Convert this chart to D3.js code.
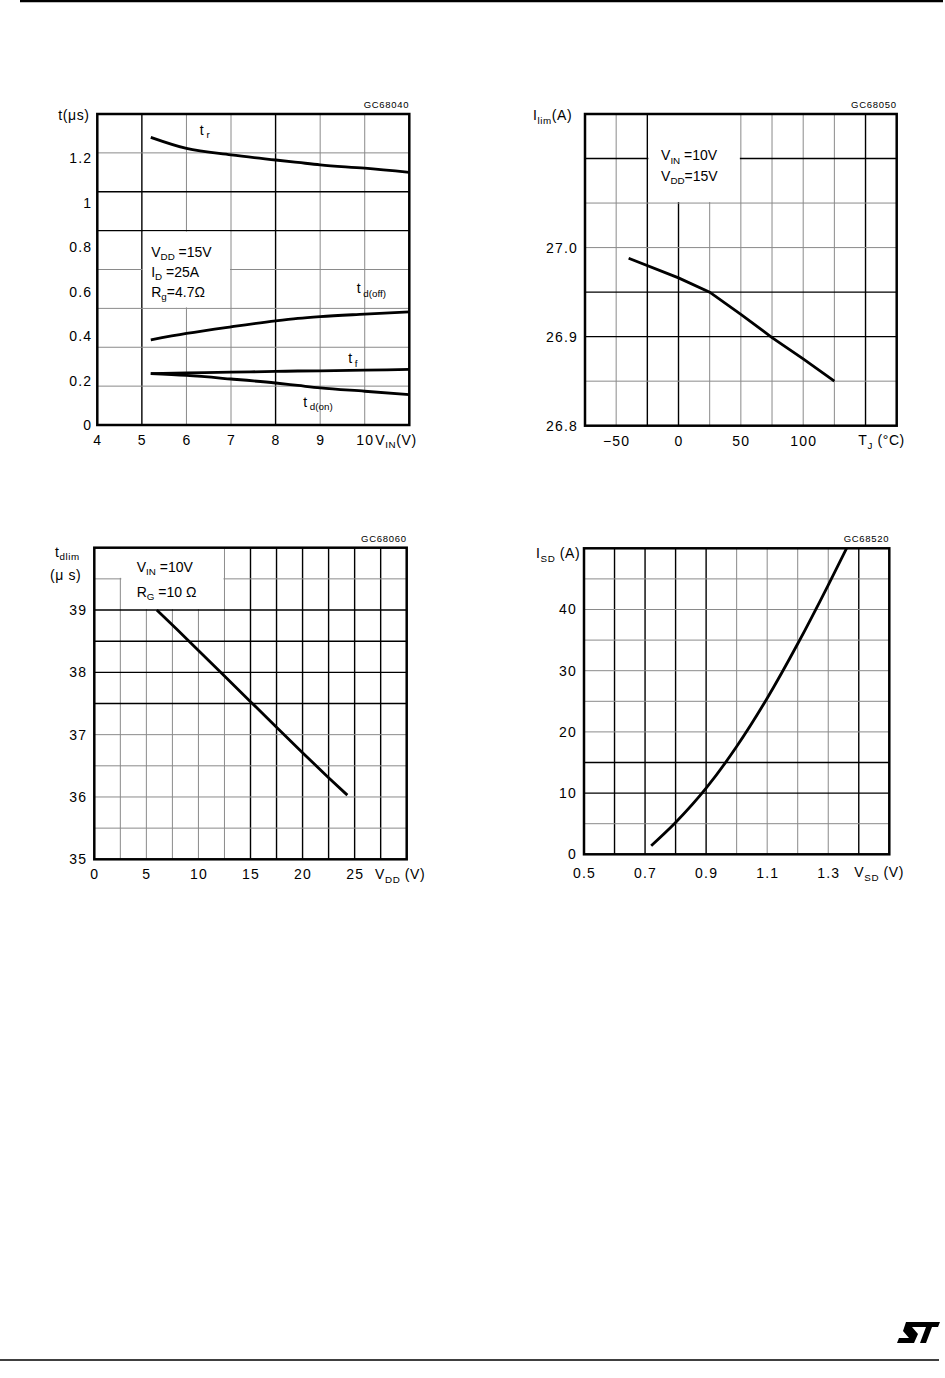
<!DOCTYPE html>
<html>
<head>
<meta charset="utf-8">
<script src="https://cdn.jsdelivr.net/npm/d3@7"></script>
<style>
  body { margin: 0; background: #fff; }
  svg { display: block; font-family: "Liberation Sans", Arial, sans-serif; }
</style>
</head>
<body>
<script>
// Chart 1 - switching times vs V_IN
const vinValues = [5.2, 6, 7, 8, 8.5, 9, 10, 11];
const trValues = [1.295, 1.245, 1.216, 1.193, 1.182, 1.171, 1.156, 1.137];
const tdoffValues = [0.383, 0.412, 0.442, 0.469, 0.480, 0.488, 0.499, 0.509];
const tfValues = [0.231, 0.234, 0.238, 0.241, 0.243, 0.244, 0.247, 0.250];
const tdonValues = [0.231, 0.223, 0.207, 0.189, 0.178, 0.167, 0.152, 0.137];
const vinTicks = [4, 5, 6, 7, 8, 9, 10];
const timeTicks = [0, 0.2, 0.4, 0.6, 0.8, 1, 1.2];

// Chart 2 - current limit vs junction temperature
const tjValues = [-40, 0, 25, 50, 75, 100, 125];
const ilimValues = [26.988, 26.966, 26.950, 26.925, 26.899, 26.875, 26.850];
const tjTicks = [-50, 0, 50, 100];
const ilimTicks = [26.8, 26.9, 27.0];

// Chart 3 - current limit delay vs V_DD
const vddValues = [6, 8, 10, 12.5, 15, 17.5, 20, 22.5, 24.3];
const tdlimValues = [39, 38.68, 38.35, 37.94, 37.53, 37.12, 36.71, 36.31, 36.03];
const vddTicks = [0, 5, 10, 15, 20, 25];
const tdlimTicks = [35, 36, 37, 38, 39];

// Chart 4 - source-drain diode forward characteristics
const vsdValues = [0.72, 0.8, 0.9, 1.0, 1.1, 1.2, 1.3, 1.36];
const isdValues = [1.4, 5.2, 10.8, 17.6, 25.5, 34.4, 44.0, 50];
const vsdTicks = [0.5, 0.7, 0.9, 1.1, 1.3];
const isdTicks = [0, 10, 20, 30, 40];

const width = 945, height = 1378;
const svg = d3.select("body").append("svg")
    .attr("width", width)
    .attr("height", height);

// text with subscripts: parts = [[text, isSub], ...]
function richText(g, x, y, parts, size, anchor) {
    const t = g.append("text")
        .attr("x", x).attr("y", y)
        .attr("font-size", size)
        .attr("text-anchor", anchor || "start")
        .attr("fill", "#000");
    let low = false;
    parts.forEach(p => {
        const sub = !!p[1];
        const span = t.append("tspan").text(p[0]);
        if (sub) span.attr("font-size", size * 0.7);
        if (sub && !low) span.attr("dy", size * 0.25);
        if (!sub && low) span.attr("dy", -size * 0.25);
        low = sub;
    });
    return t;
}

function drawChart(c) {
    const g = svg.append("g");
    const x = d3.scaleLinear().domain(c.xDomain).range([c.left, c.left + c.w]);
    const y = d3.scaleLinear().domain(c.yDomain).range([c.top + c.h, c.top]);

    // grid
    g.selectAll(".vgrid").data(c.xGrid).enter().append("line")
        .attr("x1", d => x(d)).attr("x2", d => x(d))
        .attr("y1", c.top).attr("y2", c.top + c.h)
        .attr("stroke", d => c.xDark.includes(d) ? "#000" : "#8a8a8a")
        .attr("stroke-width", d => c.xDark.includes(d) ? 1.4 : 1);
    g.selectAll(".hgrid").data(c.yGrid).enter().append("line")
        .attr("y1", d => y(d)).attr("y2", d => y(d))
        .attr("x1", c.left).attr("x2", c.left + c.w)
        .attr("stroke", d => c.yDark.includes(d) ? "#000" : "#8a8a8a")
        .attr("stroke-width", d => c.yDark.includes(d) ? 1.4 : 1);

    // white boxes behind the condition notes
    g.selectAll(".box").data(c.boxes).enter().append("rect")
        .attr("x", d => x(d.x0) + 1)
        .attr("y", d => y(d.y1) + 1)
        .attr("width", d => x(d.x1) - x(d.x0) - 2)
        .attr("height", d => y(d.y0) - y(d.y1) - 2)
        .attr("fill", "#fff");

    // curves
    const line = d3.line()
        .x(d => x(d[0]))
        .y(d => y(d[1]))
        .curve(c.curve);
    c.series.forEach(s => {
        g.append("path")
            .datum(d3.zip(s.x, s.y))
            .attr("d", line)
            .attr("fill", "none")
            .attr("stroke", "#000")
            .attr("stroke-width", 2.8);
    });

    // frame
    g.append("rect")
        .attr("x", c.left).attr("y", c.top)
        .attr("width", c.w).attr("height", c.h)
        .attr("fill", "none")
        .attr("stroke", "#000")
        .attr("stroke-width", 2.5);

    // axes
    const xAxis = d3.axisBottom(x).tickValues(c.xTicks).tickSize(0).tickPadding(c.xPad).tickFormat(c.xFormat);
    const yAxis = d3.axisLeft(y).tickValues(c.yTicks).tickSize(0).tickPadding(c.yPad).tickFormat(c.yFormat);
    g.append("g")
        .attr("transform", "translate(0," + (c.top + c.h) + ")")
        .call(xAxis)
        .call(a => a.select(".domain").remove())
        .attr("font-family", "Liberation Sans, Arial, sans-serif")
        .attr("font-size", 14)
        .attr("letter-spacing", 1.2);
    g.append("g")
        .attr("transform", "translate(" + c.left + ",0)")
        .call(yAxis)
        .call(a => a.select(".domain").remove())
        .attr("font-family", "Liberation Sans, Arial, sans-serif")
        .attr("font-size", 14)
        .attr("letter-spacing", 1.2);

    // notes in data coordinates
    c.notes.forEach(n => richText(g, x(n.x), y(n.y), n.parts, 14));

    // axis titles relative to the frame
    c.titles.forEach(t => richText(g, c.left + t.dx, c.top + t.dy, t.parts, 14)
        .attr("letter-spacing", 0.6));

    // figure code
    g.append("text")
        .attr("x", c.left + c.w)
        .attr("y", c.top - 6)
        .attr("text-anchor", "end")
        .attr("font-size", 9.5)
        .attr("letter-spacing", 0.7)
        .text(c.code);
}

const charts = [
    {
        code: "GC68040", left: 97.3, top: 114, w: 312, h: 311,
        xDomain: [4, 11], yDomain: [0, 1.4],
        xGrid: [5, 6, 7, 8, 9, 10], xDark: [5, 8],
        yGrid: [0.175, 0.35, 0.525, 0.7, 0.875, 1.05, 1.225], yDark: [0.875, 1.05],
        xTicks: vinTicks, yTicks: timeTicks,
        xFormat: d => String(d), yFormat: d => String(d),
        xPad: 10, yPad: 5,
        boxes: [{ x0: 5, x1: 7, y0: 0.525, y1: 0.875 }],
        curve: d3.curveMonotoneX,
        series: [
            { x: vinValues, y: trValues },
            { x: vinValues, y: tdoffValues },
            { x: vinValues, y: tfValues },
            { x: vinValues, y: tdonValues }
        ],
        notes: [
            { x: 6.30, y: 1.306, parts: [["t"], [" r", 1]] },
            { x: 9.82, y: 0.593, parts: [["t"], [" d(off)", 1]] },
            { x: 9.63, y: 0.278, parts: [["t"], [" f", 1]] },
            { x: 8.62, y: 0.082, parts: [["t"], [" d(on)", 1]] },
            { x: 5.21, y: 0.758, parts: [["V"], ["DD", 1], [" =15V"]] },
            { x: 5.21, y: 0.668, parts: [["I"], ["D", 1], [" =25A"]] },
            { x: 5.21, y: 0.578, parts: [["R"], ["g", 1], ["=4.7Ω"]] }
        ],
        titles: [
            { dx: -39, dy: 6, parts: [["t(μs)"]] },
            { dx: 278, dy: 330.5, parts: [["V"], ["IN", 1], ["(V)"]] }
        ]
    },
    {
        code: "GC68050", left: 585, top: 114, w: 311.7, h: 311.7,
        xDomain: [-75, 175], yDomain: [26.8, 27.15],
        xGrid: [-50, -25, 0, 25, 50, 75, 100, 125, 150], xDark: [-25, 0, 150],
        yGrid: [26.85, 26.9, 26.95, 27.0, 27.05, 27.1], yDark: [26.9, 26.95, 27.1],
        xTicks: tjTicks, yTicks: ilimTicks,
        xFormat: d3.format("d"), yFormat: d3.format(".1f"),
        xPad: 10, yPad: 7,
        boxes: [{ x0: -25, x1: 50, y0: 27.05, y1: 27.15 }],
        curve: d3.curveLinear,
        series: [{ x: tjValues, y: ilimValues }],
        notes: [
            { x: -14, y: 27.098, parts: [["V"], ["IN", 1], [" =10V"]] },
            { x: -14, y: 27.075, parts: [["V"], ["DD", 1], ["=15V"]] }
        ],
        titles: [
            { dx: -52, dy: 6, parts: [["I"], ["lim", 1], ["(A)"]] },
            { dx: 273.3, dy: 331, parts: [["T"], ["J", 1], [" (°C)"]] }
        ]
    },
    {
        code: "GC68060", left: 94.3, top: 547.7, w: 312.4, h: 311.6,
        xDomain: [0, 30], yDomain: [35, 40],
        xGrid: [2.5, 5, 7.5, 10, 12.5, 15, 17.5, 20, 22.5, 25, 27.5], xDark: [15, 17.5, 20, 22.5, 25, 27.5],
        yGrid: [35.5, 36, 36.5, 37, 37.5, 38, 38.5, 39, 39.5], yDark: [37.5, 38, 38.5, 39],
        xTicks: vddTicks, yTicks: tdlimTicks,
        xFormat: d3.format("d"), yFormat: d3.format("d"),
        xPad: 10, yPad: 7,
        boxes: [{ x0: 2.5, x1: 12.5, y0: 39, y1: 40 }, { x0: 1, x1: 12.5, y0: 39.5, y1: 40 }],
        curve: d3.curveLinear,
        series: [{ x: vddValues, y: tdlimValues }],
        notes: [
            { x: 4.07, y: 39.615, parts: [["V"], ["IN", 1], [" =10V"]] },
            { x: 4.07, y: 39.214, parts: [["R"], ["G", 1], [" =10 Ω"]] }
        ],
        titles: [
            { dx: -39.3, dy: 9, parts: [["t"], ["dlim", 1]] },
            { dx: -44.3, dy: 32.3, parts: [["(μ s)"]] },
            { dx: 280.7, dy: 331.3, parts: [["V"], ["DD", 1], [" (V)"]] }
        ]
    },
    {
        code: "GC68520", left: 584, top: 548.3, w: 305.3, h: 306,
        xDomain: [0.5, 1.5], yDomain: [0, 50],
        xGrid: [0.6, 0.7, 0.8, 0.9, 1.0, 1.1, 1.2, 1.3, 1.4], xDark: [0.6, 0.7, 0.8, 0.9, 1.4],
        yGrid: [5, 10, 15, 20, 25, 30, 35, 40, 45], yDark: [10, 15],
        xTicks: vsdTicks, yTicks: isdTicks,
        xFormat: d3.format(".1f"), yFormat: d3.format("d"),
        xPad: 14, yPad: 7,
        boxes: [],
        curve: d3.curveMonotoneX,
        series: [{ x: vsdValues, y: isdValues }],
        notes: [],
        titles: [
            { dx: -48, dy: 9.7, parts: [["I"], ["SD", 1], [" (A)"]] },
            { dx: 270.3, dy: 328.7, parts: [["V"], ["SD", 1], [" (V)"]] }
        ]
    }
];

charts.forEach(drawChart);

// page rules
svg.append("line")
    .attr("x1", 20).attr("x2", 943).attr("y1", 1).attr("y2", 1)
    .attr("stroke", "#000").attr("stroke-width", 2.5);
svg.append("line")
    .attr("x1", 0).attr("x2", 939).attr("y1", 1360).attr("y2", 1360)
    .attr("stroke", "#000").attr("stroke-width", 1.5);

// ST logo
svg.append("path")
    .attr("transform", "translate(897,1322)")
    .attr("d", "M9,0 L27,0 L25,5 L15,5 L21,12 L17,21 L0,21 L2,16 L12,16 L6,9 Z M27,0 L43,0 L41,5 L35,5 L29,21 L23,21 L29,5 L25,5 Z")
    .attr("fill", "#000");
</script>
</body>
</html>
